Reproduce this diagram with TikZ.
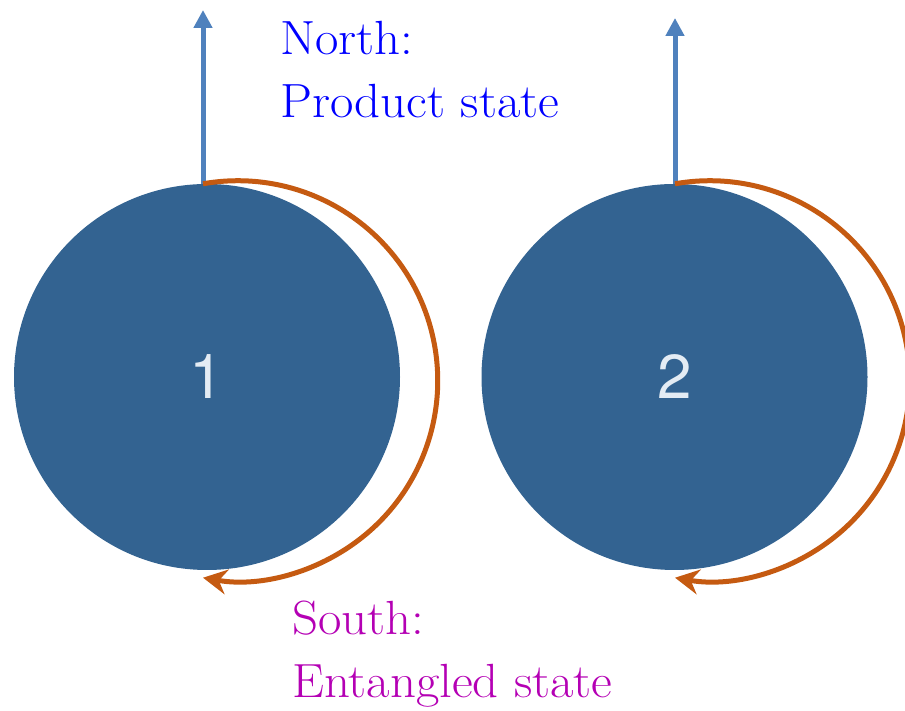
\documentclass[tikz,border=0pt]{standalone}
\usepackage{fontspec}
\newfontfamily\numfont{TeX Gyre Heros}
\newfontfamily\lblfont{Latin Modern Roman}[FakeStretch=1.06]
\usetikzlibrary{arrows.meta}
\definecolor{ballblue}{RGB}{51,99,145}
\definecolor{arrowblue}{RGB}{79,129,189}
\definecolor{arcorange}{RGB}{197,90,17}
\definecolor{numwhite}{RGB}{228,236,244}
\definecolor{northblue}{RGB}{0,0,255}
\definecolor{southmag}{RGB}{180,0,180}
\tikzset{
  ball/.style={circle, fill=ballblue, draw=none, minimum size=386pt, inner sep=0pt,
    font=\numfont\fontsize{62}{62}\selectfont, text=numwhite},
  spinarrow/.style={draw=arrowblue, line width=5pt, -{Triangle[length=18pt,width=18pt]}},
  swirl/.style={draw=arcorange, line width=5pt, -{Stealth[length=24pt,width=25pt,inset=8pt]}},
  lbl/.style={anchor=base west, inner sep=0pt, font=\lblfont\fontsize{48}{56}\selectfont}
}
\begin{document}
\begin{tikzpicture}[x=1pt,y=1pt]
\useasboundingbox (0,0) rectangle (905,711);
% balls
\node[ball] (b1) at (207,334) {1};
\node[ball] (b2) at (674.5,334) {2};
% spin arrows
\coordinate (t1) at (203,701);
\coordinate (t2) at (675,693);
\draw[spinarrow] (b1.north) ++(-4,0) coordinate (s1) -- (t1);
\draw[spinarrow] (b2.north) ++(0.5,0) coordinate (s2) -- (t2);
% rotation arcs
\draw[swirl] (s1) arc[start angle=100, end angle=-100, radius=200];
\draw[swirl] (s2) arc[start angle=100, end angle=-100, radius=200];
% labels
\node[lbl, text=northblue] (n1) at (280,656) {North:};
\node[lbl, text=northblue] (n2) at (280,593) {Product state};
\node[lbl, text=southmag] (s1l) at (292,76) {South:};
\node[lbl, text=southmag] (s2l) at (292,13) {Entangled state};
\end{tikzpicture}
\end{document}
